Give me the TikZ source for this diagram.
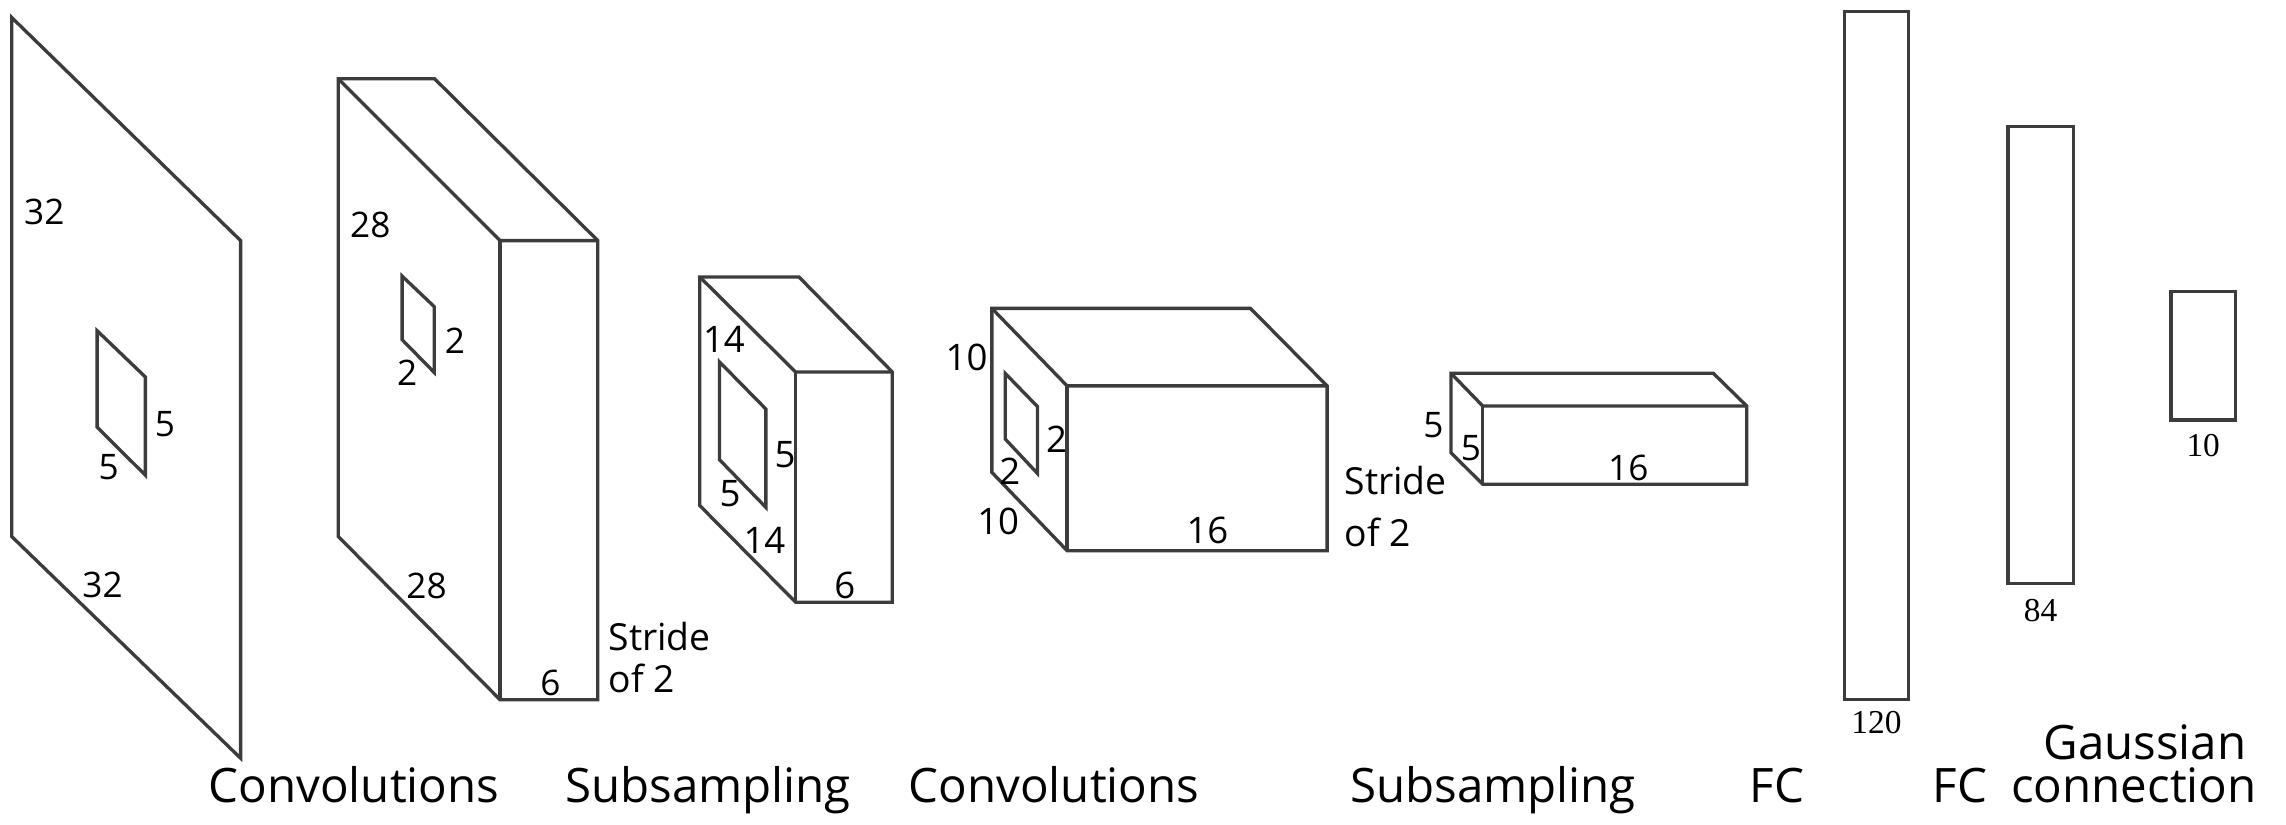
\documentclass[tikz,border=0pt]{standalone}
\usepackage{fontspec}
\newfontfamily\vfont{Open Sans}
\newfontfamily\tfont{Liberation Serif}
\definecolor{lc}{HTML}{3C3C3C}
\begin{document}
\begin{tikzpicture}[x=0.01cm,y=-0.01cm,
  edge/.style={draw=lc,line width=0.95pt,line join=miter},
  vnum/.style={font=\vfont\fontsize{10}{12}\selectfont,inner sep=0pt},
  cnum/.style={font=\vfont\fontsize{10.4}{12}\selectfont,inner sep=0pt},
  tnum/.style={font=\tfont\fontsize{9.5}{11}\selectfont,inner sep=0pt},
  captext/.style={font=\vfont\fontsize{13.5}{16}\selectfont,inner sep=0pt,anchor=base},
  stride/.style={font=\vfont\fontsize{10.6}{13}\selectfont,inner sep=0pt,anchor=west}]
\useasboundingbox (0,0) rectangle (2286,824);
% ---- input plane 32x32
\draw[edge] (11.7,17.5) -- (240.6,240.6) -- (240.6,758.2) -- (11.7,536.5) -- cycle;
\draw[edge] (97.1,330.7) -- (145.4,377) -- (145.4,475.2) -- (97.1,427.2) -- cycle;
\node[vnum] (p32a) at (44.3,211.7) {32};
\node[vnum] (p32b) at (102.5,584.7) {32};
\node[vnum] (p5a) at (165,424.6) {5};
\node[vnum] (p5b) at (108.6,467.4) {5};
% ---- C1 block 28x28x6
\draw[edge] (338.3,78.7) -- (434.5,78.7) -- (597.8,240.6) -- (597.8,699.8) -- (500.1,699.8) -- (338.3,536.5) -- cycle;
\draw[edge] (338.3,78.7) -- (500.1,240.6) -- (597.8,240.6);
\draw[edge] (500.1,240.6) -- (500.1,699.8);
\draw[edge] (402.1,276.1) -- (434.2,306.6) -- (434.2,372.4) -- (402.1,339.7) -- cycle;
\node[vnum] (c28a) at (370.3,225.1) {28};
\node[vnum] (c28b) at (426.5,585.5) {28};
\node[vnum] (c6) at (550.3,683) {6};
\node[vnum] (c2a) at (454.8,340.9) {2};
\node[vnum] (c2b) at (407.1,372.4) {2};
\node[stride] (s1a) at (608,637) {Stride};
\node[stride] (s1b) at (608,678) {of 2};
% ---- S2 block 14x14x6
\draw[edge] (699.8,277) -- (799,277) -- (892.3,372) -- (892.3,602.2) -- (795.6,602.2) -- (699.8,505.6) -- cycle;
\draw[edge] (699.8,277) -- (795.6,372) -- (892.3,372);
\draw[edge] (795.6,372) -- (795.6,602.2);
\draw[edge] (719.5,361.9) -- (765.9,409.1) -- (765.9,507.4) -- (719.5,459.7) -- cycle;
\node[cnum] (s14a) at (723.9,339.3) {14};
\node[cnum] (s5a) at (785.1,454.8) {5};
\node[cnum] (s5b) at (730,494.1) {5};
\node[cnum] (s14b) at (764.4,540.6) {14};
\node[cnum] (s6) at (844.9,585.5) {6};
% ---- C3 block 10x10x16
\draw[edge] (991.9,308.4) -- (1250.5,308.4) -- (1327.1,385.9) -- (1327.1,550.7) -- (1067.1,550.7) -- (991.9,472.4) -- cycle;
\draw[edge] (991.9,308.4) -- (1067.1,385.9) -- (1327.1,385.9);
\draw[edge] (1067.1,385.9) -- (1067.1,550.7);
\draw[edge] (1005.3,373.5) -- (1037.4,406.5) -- (1037.4,473.4) -- (1005.3,439.1) -- cycle;
\node[cnum] (d10a) at (966.5,357.5) {10};
\node[cnum] (d2a) at (1056.6,439.1) {2};
\node[cnum] (d2b) at (1009.7,470.8) {2};
\node[cnum] (d10b) at (998.2,521.4) {10};
\node[cnum] (d16) at (1207.4,530.7) {16};
\node[stride] (s2a) at (1344,481) {Stride};
\node[stride] (s2b) at (1344,532) {of 2};
% ---- S4 block 5x5x16
\draw[edge] (1451,373.3) -- (1713.3,373.3) -- (1746.7,406) -- (1746.7,484.3) -- (1482.7,484.3) -- (1451,452.7) -- cycle;
\draw[edge] (1451,373.3) -- (1482.7,406) -- (1746.7,406);
\draw[edge] (1482.7,406) -- (1482.7,484.3);
\node[vnum] (e5a) at (1433.3,425) {5};
\node[vnum] (e5b) at (1471,448.3) {5};
\node[vnum] (e16) at (1628.3,468.3) {16};
% ---- FC layers
\draw[edge] (1844.4,11.7) rectangle (1908.5,699.8);
\node[tnum] (f120) at (1876.5,722.5) {120};
\draw[edge] (2008,126.8) rectangle (2073.3,583.2);
\node[tnum] (f84) at (2040.6,610.5) {84};
\draw[edge] (2171,291.6) rectangle (2235.5,419.9);
\node[tnum] (f10) at (2203.2,445.5) {10};
% ---- captions
\node[captext] (l1) at (354,802) {Convolutions};
\node[captext] (l2) at (708,802) {Subsampling};
\node[captext] (l3) at (1054,802) {Convolutions};
\node[captext] (l4) at (1493,802) {Subsampling};
\node[captext] (l5) at (1777,802) {FC};
\node[captext] (l6) at (1960,802) {FC};
\node[captext] (l7) at (2145,759) {Gaussian};
\node[captext] (l8) at (2134,802) {connection};
\end{tikzpicture}
\end{document}
